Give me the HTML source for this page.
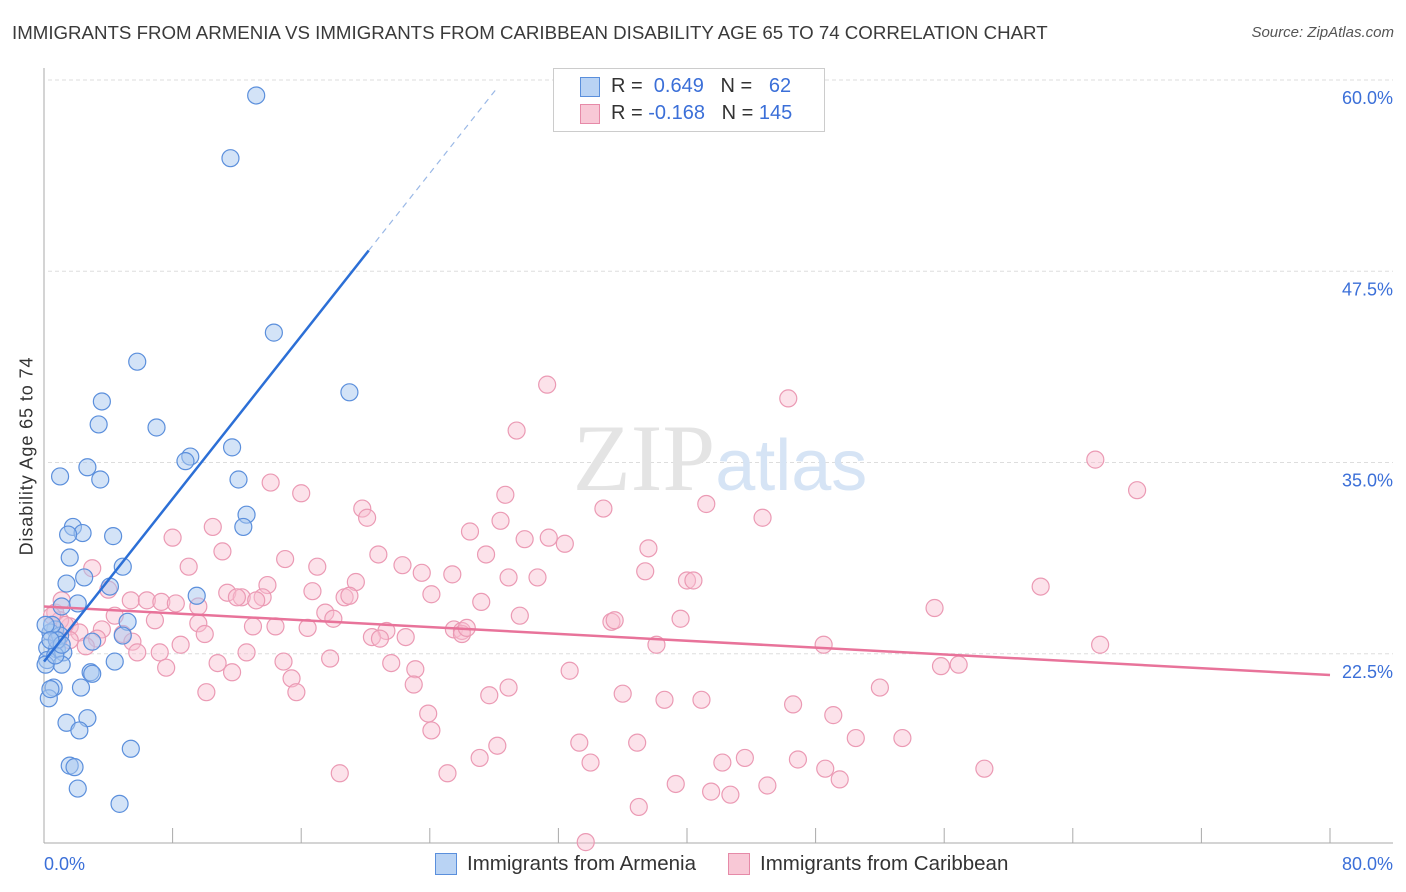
<!DOCTYPE html>
<html><head><meta charset="utf-8"><style>
body{margin:0;background:#fff;font-family:"Liberation Sans",sans-serif;}
#wrap{position:relative;width:1406px;height:892px;overflow:hidden;}
.t{position:absolute;white-space:nowrap;}
</style></head><body>
<div id="wrap">
<div class="t" style="left:12px;top:22px;font-size:18.7px;color:#3a3a3a;">IMMIGRANTS FROM ARMENIA VS IMMIGRANTS FROM CARIBBEAN DISABILITY AGE 65 TO 74 CORRELATION CHART</div>
<div class="t" style="right:12px;top:24px;font-size:15px;color:#555;font-style:italic;">Source: ZipAtlas.com</div>
<div class="t" style="left:27px;top:456px;font-size:18px;letter-spacing:0.9px;color:#333;transform:translate(-50%,-50%) rotate(-90deg);">Disability Age 65 to 74</div>
<svg id="plot" width="1406" height="892" style="position:absolute;left:0;top:0"></svg>
<div style="position:absolute;left:553px;top:68px;width:270px;height:62px;border:1px solid #ccc;background:#fff;font-size:20px;">
 <div style="position:absolute;left:26px;top:8px;width:18px;height:18px;background:#b9d3f4;border:1px solid #5a8fdc;"></div>
 <div class="t" style="left:57px;top:6px;color:#333">R = &nbsp;<span style="color:#3b6fd8">0.649</span> &nbsp;&nbsp;N = &nbsp;&nbsp;<span style="color:#3b6fd8">62</span></div>
 <div style="position:absolute;left:26px;top:35px;width:18px;height:18px;background:#f8c8d6;border:1px solid #e68aa8;"></div>
 <div class="t" style="left:57px;top:33px;color:#333">R = <span style="color:#3b6fd8">-0.168</span> &nbsp;&nbsp;N = <span style="color:#3b6fd8">145</span></div>
</div>
<div style="position:absolute;top:852px;left:0;width:1406px;font-size:20.5px;color:#333;">
 <div style="position:absolute;left:435px;top:1px;width:20px;height:20px;background:#b9d3f4;border:1px solid #5a8fdc;"></div>
 <div class="t" style="left:467px;top:0">Immigrants from Armenia</div>
 <div style="position:absolute;left:728px;top:1px;width:20px;height:20px;background:#f8c8d6;border:1px solid #e68aa8;"></div>
 <div class="t" style="left:760px;top:0">Immigrants from Caribbean</div>
</div>
</div>
<script>
const yTicks=[60,47.5,35,22.5];
const yTickLabels=["60.0%","47.5%","35.0%","22.5%"];
const xTickLabels=["0.0%","80.0%"];
const armeniaX=[13.2,11.6,14.3,5.8,19.0,3.6,3.4,7.0,11.7,9.1,8.8,2.7,1.0,3.5,12.1,12.6,12.4,1.8,2.4,1.5,4.3,1.6,4.9,2.5,1.4,4.1,9.5,2.1,1.1,5.2,0.7,0.4,4.9,1.0,3.0,0.2,0.8,1.2,0.2,1.1,2.9,4.4,3.0,0.6,2.3,0.3,1.4,2.7,2.2,5.4,1.6,1.9,2.1,4.7,0.8,0.5,0.1,0.4,0.1,0.7,1.1,0.4];
const armeniaY=[60.1,56.0,44.6,42.7,40.7,40.1,38.6,38.4,37.1,36.5,36.2,35.8,35.2,35.0,35.0,32.7,31.9,31.9,31.5,31.4,31.3,29.9,29.3,28.6,28.2,28.0,27.4,26.9,26.7,25.7,25.2,25.0,24.8,24.8,24.4,24.0,23.9,23.7,23.2,22.9,22.4,23.1,22.3,21.4,21.4,20.7,19.1,19.4,18.6,17.4,16.3,16.2,14.8,13.8,24.5,25.5,25.5,21.3,22.9,23.5,24.2,24.5];
const caribX=[31.3,46.3,29.4,65.4,68.0,14.1,16.0,28.7,19.8,20.1,34.8,41.2,44.7,10.5,26.5,28.4,29.9,31.4,32.4,8.0,11.1,37.6,20.8,27.5,15.0,3.0,9.0,17.0,22.3,23.5,25.4,30.7,28.9,37.4,40.0,40.4,62.0,4.0,13.9,11.4,16.7,19.4,18.7,19.0,12.3,13.6,13.2,12.0,5.4,6.4,7.3,8.2,9.6,24.1,27.2,29.6,35.3,35.5,39.6,55.4,0.7,4.4,6.9,17.5,18.0,9.6,13.0,14.4,16.4,21.3,25.5,26.0,26.0,26.3,22.5,20.4,20.9,1.6,2.2,3.6,4.9,5.5,8.5,10.0,3.3,2.6,5.8,7.2,12.6,7.6,10.8,11.7,14.9,17.8,21.6,23.1,48.5,65.7,38.1,32.7,55.8,56.9,10.1,15.4,15.7,23.0,27.7,28.9,36.0,38.6,40.9,52.0,46.6,49.1,23.9,24.1,28.2,33.3,36.9,27.1,34.0,42.2,43.6,46.9,48.6,53.4,50.5,58.5,18.4,25.1,39.3,41.5,42.7,45.0,49.5,37.0,33.7,1.0,1.3,0.9,0.5,1.6,1.1];
const caribY=[41.2,40.3,38.2,36.3,34.3,34.8,34.1,34.0,33.1,32.5,33.1,33.4,32.5,31.9,31.6,32.3,31.1,31.2,30.8,31.2,30.3,30.5,30.1,30.1,29.8,29.2,29.3,29.3,29.4,28.9,28.8,28.6,28.6,29.0,28.4,28.4,28.0,27.8,28.1,27.6,27.7,28.3,27.3,27.4,27.3,27.3,27.1,27.3,27.1,27.1,27.0,26.9,26.7,27.5,27.0,26.1,25.7,25.8,25.9,26.6,26.3,26.1,25.8,26.3,25.9,25.6,25.4,25.4,25.3,25.1,25.2,25.1,24.9,25.3,24.7,24.7,24.6,25.4,25.0,25.2,24.9,24.4,24.2,24.9,24.6,24.1,23.7,23.7,23.7,22.7,23.0,22.4,23.1,23.3,23.0,22.6,24.2,24.2,24.2,22.5,22.8,22.9,21.1,22.0,21.1,21.6,20.9,21.4,21.0,20.6,20.6,21.4,20.3,19.6,19.7,18.6,17.6,17.8,17.8,16.8,16.5,16.5,16.8,16.7,16.1,18.1,18.1,16.1,15.8,15.8,15.1,14.6,14.4,15.0,15.4,13.6,11.3,25.8,25.5,24.5,26.1,24.5,27.1];
const armeniaTrend=[23.1,1.33];   // intercept, slope
const caribTrend=[26.7,-0.056];
const NS="http://www.w3.org/2000/svg";
const svg=document.getElementById('plot');
const X=v=>44+v*16.075;
const Y=v=>97+(60-v)*15.3;
function mk(tag,attrs){const e=document.createElementNS(NS,tag);for(const k in attrs)e.setAttribute(k,attrs[k]);svg.appendChild(e);return e;}
yTicks.forEach((t,i)=>{
 const g=mk('line',{x1:48,x2:1393,y1:Y(t)-17,y2:Y(t)-17,stroke:'#ddd','stroke-dasharray':'4,3'});
 
 
 const tx=mk('text',{x:1393,y:Y(t)+7,'text-anchor':'end','font-size':18,fill:'#3b6fd8','font-family':'Liberation Sans, sans-serif'});
 tx.textContent=yTickLabels[i];
 
 
});
const ax=mk('line',{x1:44,x2:44,y1:68,y2:843,stroke:'#aaa'});


const bx=mk('line',{x1:44,x2:1393,y1:843,y2:843,stroke:'#aaa'});


for(let i=0;i<=10;i++){const tk=mk('line',{x1:X(i*8),x2:X(i*8),y1:828,y2:843,stroke:'#aaa'});
 
 }
[[0,'start',44],[80,'end',1393]].forEach((d,i)=>{const tx=mk('text',{x:d[2],y:870,'text-anchor':d[1],'font-size':18,fill:'#3b6fd8','font-family':'Liberation Sans, sans-serif'});tx.textContent=xTickLabels[i];
 
 });
const wm=mk('text',{x:720,y:490,'text-anchor':'middle','font-size':95,fill:'#e4e4e4','font-family':'Liberation Serif, serif'});
wm.innerHTML='ZIP<tspan fill="#d6e4f5" font-family="Liberation Sans, sans-serif" font-size="72">atlas</tspan>';


caribX.forEach((x,i)=>{const c=mk('circle',{cx:X(x),cy:Y(caribY[i]),r:8.5,fill:'rgba(248,190,208,0.45)',stroke:'#eb9ab4','stroke-width':1.2});
 
 });
armeniaX.forEach((x,i)=>{const c=mk('circle',{cx:X(x),cy:Y(armeniaY[i]),r:8.5,fill:'rgba(168,200,240,0.5)',stroke:'#5b8fdc','stroke-width':1.2});
 
 });
const pl=mk('line',{x1:X(0),y1:Y(caribTrend[0]),x2:X(80),y2:Y(caribTrend[0]+caribTrend[1]*80),stroke:'#e8739a','stroke-width':2.5});


const bl=mk('line',{x1:X(0),y1:Y(armeniaTrend[0]),x2:X(20.2),y2:Y(armeniaTrend[0]+armeniaTrend[1]*20.2),stroke:'#2c6fd6','stroke-width':2.5});


const bd=mk('line',{x1:X(20.2),y1:Y(armeniaTrend[0]+armeniaTrend[1]*20.2),x2:X(28.2),y2:Y(armeniaTrend[0]+armeniaTrend[1]*28.2),stroke:'#9ab8e6','stroke-width':1.2,'stroke-dasharray':'6,5'});


</script>
</body></html>
